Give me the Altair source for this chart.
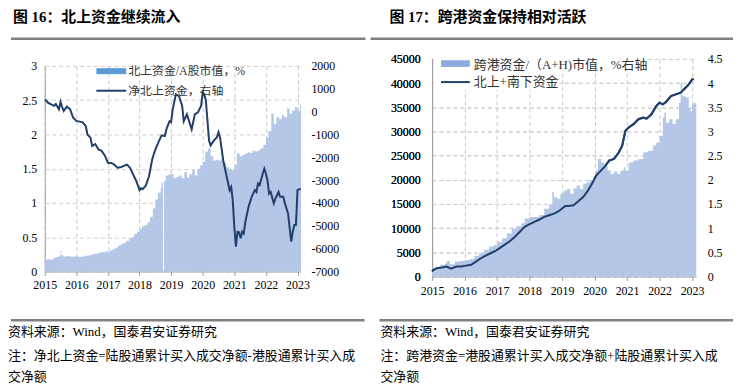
import altair as alt
import pandas as pd

# ---------------- data ----------------
YEARS = [2015, 2016, 2017, 2018, 2019, 2020, 2021, 2022, 2023]

# Figure 16: northbound holdings / A-share market cap (%) (left axis)
L_AREA_T = [2015.00, 2015.08, 2015.17, 2015.25, 2015.33, 2015.42, 2015.50, 2015.52, 2015.58, 2015.67,
            2015.75, 2015.83, 2015.92, 2016.00, 2016.08, 2016.17, 2016.25, 2016.33, 2016.42, 2016.50,
            2016.58, 2016.67, 2016.75, 2016.83, 2016.92, 2017.00, 2017.08, 2017.17, 2017.25, 2017.33,
            2017.42, 2017.50, 2017.58, 2017.67, 2017.75, 2017.83, 2017.92, 2018.00, 2018.08, 2018.17,
            2018.25, 2018.33, 2018.42, 2018.50, 2018.58, 2018.67, 2018.70, 2018.745, 2018.775, 2018.83,
            2018.92, 2019.00, 2019.08, 2019.17, 2019.25, 2019.33, 2019.42, 2019.50, 2019.58, 2019.67,
            2019.75, 2019.83, 2019.92, 2020.00, 2020.08, 2020.17, 2020.25, 2020.33, 2020.42, 2020.50,
            2020.58, 2020.67, 2020.75, 2020.83, 2020.92, 2021.00, 2021.08, 2021.17, 2021.25, 2021.33,
            2021.42, 2021.50, 2021.58, 2021.67, 2021.75, 2021.83, 2021.92, 2022.00, 2022.08, 2022.17,
            2022.25, 2022.33, 2022.42, 2022.50, 2022.58, 2022.67, 2022.75, 2022.83, 2022.92, 2023.00,
            2023.08, 2023.11]
L_AREA_V = [0.17, 0.18, 0.17, 0.19, 0.21, 0.22, 0.32, 0.24, 0.22, 0.23,
            0.22, 0.22, 0.22, 0.22, 0.21, 0.22, 0.23, 0.23, 0.24, 0.25,
            0.26, 0.27, 0.28, 0.28, 0.29, 0.29, 0.31, 0.33, 0.35, 0.38,
            0.40, 0.42, 0.45, 0.48, 0.50, 0.55, 0.58, 0.62, 0.66, 0.68,
            0.72, 0.80, 0.92, 1.05, 1.15, 1.22, 1.30, 0.00, 1.32, 1.40,
            1.42, 1.42, 1.36, 1.38, 1.40, 1.36, 1.45, 1.37, 1.42, 1.48,
            1.40, 1.50, 1.55, 1.60, 1.75, 1.80, 1.68, 1.62, 1.63, 1.62,
            1.64, 1.58, 1.52, 1.50, 1.48, 1.55, 1.72, 1.68, 1.70, 1.72,
            1.74, 1.73, 1.76, 1.75, 1.77, 1.80, 1.85, 1.95, 2.05, 2.30,
            2.15, 2.25, 2.22, 2.28, 2.25, 2.38, 2.30, 2.35, 2.40, 2.34,
            2.43, 2.43]

# Figure 16: net northbound flow (right axis)
L_LINE_T = [2015.00, 2015.05, 2015.10, 2015.20, 2015.30, 2015.35, 2015.45, 2015.50, 2015.55, 2015.60,
            2015.70, 2015.80, 2015.90, 2016.00, 2016.10, 2016.20, 2016.30, 2016.35, 2016.45, 2016.50,
            2016.60, 2016.70, 2016.80, 2016.90, 2017.00, 2017.10, 2017.20, 2017.30, 2017.40, 2017.50,
            2017.60, 2017.70, 2017.80, 2017.90, 2018.00, 2018.05, 2018.10, 2018.20, 2018.30, 2018.40,
            2018.50, 2018.60, 2018.70, 2018.80, 2018.85, 2018.95, 2019.00, 2019.05, 2019.15, 2019.25,
            2019.35, 2019.40, 2019.50, 2019.60, 2019.65, 2019.75, 2019.85, 2019.95, 2020.00, 2020.05,
            2020.10, 2020.15, 2020.20, 2020.25, 2020.35, 2020.45, 2020.50, 2020.55, 2020.65, 2020.75,
            2020.85, 2020.90, 2020.95, 2021.00, 2021.05, 2021.10, 2021.15, 2021.20, 2021.25, 2021.30,
            2021.35, 2021.45, 2021.55, 2021.65, 2021.70, 2021.75, 2021.80, 2021.90, 2021.95, 2022.00,
            2022.05, 2022.10, 2022.15, 2022.25, 2022.30, 2022.40, 2022.45, 2022.55, 2022.60, 2022.70,
            2022.80, 2022.85, 2022.90, 2022.95, 2023.00, 2023.10]
L_LINE_V = [530, 480, 390, 320, 250, 330, 100, 420, 200, 30,
            215, 110, -270, -410, -440, -470, -640, -1000, -1150, -1500,
            -1420, -1660, -1720, -1920, -2240, -2250, -2320, -2460, -2440, -2380,
            -2320, -2460, -2760, -3050, -3440, -3350, -3400, -3240, -2830, -2100,
            -1660, -1340, -1040, -1070, -780, -420, -460, 100, 760, 680,
            240, -420, -120, -560, -780, -120, -30, 260, 840, 760,
            480, -400, -1270, -1480, -1270, -1120, -900, -1150, -2140, -2790,
            -3440, -3300, -3880, -5040, -5910, -5260, -5280, -5550, -5250, -5330,
            -4820, -4170, -3730, -3440, -3520, -3150, -3220, -2720, -2500, -2720,
            -3010, -3590, -3520, -4020, -3810, -3520, -3730, -3730, -4020, -4460,
            -5690, -5260, -4970, -4970, -3440, -3370]

# Figure 17: cross-border holdings / (A+H) market cap (%) (right axis)
R_AREA_T = [2015.00, 2015.10, 2015.25, 2015.40, 2015.45, 2015.55, 2015.70, 2015.85, 2016.00, 2016.15,
            2016.30, 2016.45, 2016.60, 2016.75, 2016.90, 2017.00, 2017.15, 2017.30, 2017.45, 2017.60,
            2017.75, 2017.85, 2018.00, 2018.15, 2018.30, 2018.45, 2018.60, 2018.70, 2018.75, 2018.85,
            2018.95, 2019.05, 2019.15, 2019.25, 2019.35, 2019.45, 2019.55, 2019.65, 2019.75, 2019.85,
            2019.95, 2020.05, 2020.10, 2020.20, 2020.30, 2020.40, 2020.50, 2020.60, 2020.70, 2020.80,
            2020.90, 2020.95, 2021.05, 2021.20, 2021.35, 2021.50, 2021.65, 2021.80, 2021.90, 2022.00,
            2022.10, 2022.15, 2022.20, 2022.30, 2022.40, 2022.50, 2022.60, 2022.65, 2022.70, 2022.80,
            2022.90, 2022.95, 2023.00, 2023.05, 2023.13]
R_AREA_V = [0.10, 0.18, 0.24, 0.27, 0.32, 0.25, 0.31, 0.32, 0.34, 0.36,
            0.43, 0.48, 0.55, 0.62, 0.65, 0.72, 0.79, 0.89, 0.99, 1.04,
            1.10, 1.20, 1.23, 1.23, 1.27, 1.40, 1.49, 1.75, 1.64, 1.61,
            1.71, 1.78, 1.81, 1.71, 1.82, 1.88, 1.81, 1.92, 1.95, 1.99,
            2.05, 2.19, 2.43, 2.36, 2.29, 2.19, 2.12, 2.17, 2.12, 2.19,
            2.26, 2.19, 2.36, 2.40, 2.43, 2.57, 2.60, 2.71, 2.77, 2.91,
            3.29, 3.39, 3.18, 3.25, 3.15, 3.25, 3.60, 4.00, 3.73, 3.70,
            3.49, 3.42, 3.56, 3.59, 3.59]

# Figure 17: northbound + southbound cumulative flow (left axis)
R_LINE_T = [2015.00, 2015.05, 2015.15, 2015.30, 2015.45, 2015.55, 2015.60, 2015.75, 2015.90, 2016.00,
            2016.20, 2016.35, 2016.50, 2016.65, 2016.80, 2016.95, 2017.10, 2017.25, 2017.40, 2017.55,
            2017.70, 2017.85, 2018.00, 2018.15, 2018.30, 2018.45, 2018.60, 2018.75, 2018.90, 2019.00,
            2019.10, 2019.20, 2019.35, 2019.50, 2019.65, 2019.80, 2019.95, 2020.05, 2020.15, 2020.30,
            2020.45, 2020.60, 2020.75, 2020.85, 2020.95, 2021.05, 2021.20, 2021.35, 2021.50, 2021.60,
            2021.75, 2021.90, 2022.00, 2022.10, 2022.20, 2022.35, 2022.50, 2022.65, 2022.80, 2022.90,
            2023.00, 2023.05]
R_LINE_V = [1030, 1370, 1710, 1850, 2050, 1710, 1650, 2050, 2050, 2190,
            2400, 3080, 3770, 4320, 4800, 5270, 5960, 6640, 7330, 8220,
            9250, 10270, 10820, 11300, 11780, 12330, 12670, 13010, 13490, 14040,
            14590, 14590, 14730, 15550, 16440, 17810, 19520, 20890, 21580, 22600,
            23970, 24320, 25690, 27060, 30140, 30820, 31510, 32530, 32880, 32650,
            33560, 35270, 35960, 35620, 36100, 37330, 37670, 38010, 39040, 39730,
            40750, 40890]

# ---------------- styling ----------------
AREA_C = "#B4C7E7"
LINE_C = "#203F6B"
GRID_C = "#CFCFCF"
VGRID_C = "#C8C8C8"
DOM_C = "#A0A0A0"
RULE_C = "#808080"
SERIF = "Liberation Serif"
MIX = "'Liberation Serif', 'Noto Sans CJK SC'"

one = pd.DataFrame({"k": [0]})


def txt(s, x, y, size, weight="normal", color="black", font=MIX):
    return alt.Chart(one).mark_text(text=s, align="left", baseline="middle", fontSize=size,
                                    fontWeight=weight, color=color, font=font).encode(
        x=alt.value(x), y=alt.value(y))


def hrule(x1, x2, y, color, width):
    return alt.Chart(one).mark_rule(color=color, strokeWidth=width).encode(
        x=alt.value(x1), x2=alt.value(x2), y=alt.value(y))


def box(x1, x2, y1, y2, color):
    return alt.Chart(one).mark_rect(color=color, opacity=1).encode(
        x=alt.value(x1), x2=alt.value(x2), y=alt.value(y1), y2=alt.value(y2))


def x_axis(pad):
    return alt.Axis(values=YEARS, labelExpr="datum.value + ''", grid=True, gridColor=VGRID_C,
                    gridDash=[4, 3], gridWidth=1, domainColor=DOM_C, tickColor=DOM_C, tickSize=4,
                    labelPadding=pad, labelFont=SERIF, labelFontSize=12, labelColor="black",
                    labelFlush=False, labelOverlap=False, title=None)


def y_axis(vals, orient, pad, grid):
    kw = dict(values=vals, orient=orient, labelExpr="datum.value + ''", ticks=False,
              labelPadding=pad, labelFont=SERIF, labelFontSize=12, labelColor="black",
              labelFlush=False, labelOverlap=False, grid=grid, title=None)
    if grid:
        kw.update(gridColor=GRID_C, gridDash=[4, 3], domainColor=DOM_C)
    else:
        kw.update(domain=False)
    return alt.Axis(**kw)


# ---------------- left panel (Fig. 16) ----------------
WL, HL = 258, 214
xl = alt.Scale(domain=[2015, 2023.11], nice=False, zero=False)
yl = alt.Scale(domain=[0, 3], range=[214, 7], nice=False)
yl2 = alt.Scale(domain=[-7000, 2000], range=[214, 7], nice=False)
XL_AX = x_axis(4)

df_la = pd.DataFrame({"t": L_AREA_T, "v": L_AREA_V})
df_ll = pd.DataFrame({"t": L_LINE_T, "v": L_LINE_V})

area_l = alt.Chart(df_la).mark_area(color=AREA_C, opacity=1, interpolate="step-after").encode(
    x=alt.X("t:Q", scale=xl, axis=XL_AX),
    y=alt.Y("v:Q", scale=yl, axis=y_axis([0, 0.5, 1, 1.5, 2, 2.5, 3], "left", 8, True)))
line_l = alt.Chart(df_ll).mark_line(color=LINE_C, strokeWidth=2).encode(
    x=alt.X("t:Q", scale=xl, axis=XL_AX),
    y=alt.Y("v:Q", scale=yl2, axis=y_axis(list(range(-7000, 2001, 1000)), "right", 10, False)))

left = alt.layer(
    area_l, line_l,
    box(-1.5, 260, -1, 6.4, "white"),
    box(-37, -36, -50, -49, "white"),
    txt("图 16：北上资金继续流入", -32, -42, 15, "bold"),
    hrule(-34, 323, -20.3, RULE_C, 2.5),
    box(52, 82, 9.3, 15.3, "#5B9BD5"),
    txt("北上资金/A股市值，%", 84, 12.3, 12, color="#333333"),
    hrule(52, 82, 32, LINE_C, 2),
    txt("净北上资金，右轴", 84, 32, 12, color="#333333"),
    hrule(-34, 322, 263, RULE_C, 2.5),
    txt("资料来源：Wind，国泰君安证券研究", -37, 275, 13),
    txt("注：净北上资金=陆股通累计买入成交净额-港股通累计买入成", -37, 299, 13),
    txt("交净额", -37, 320, 13),
).resolve_scale(y="independent").properties(width=WL, height=HL)

# ---------------- right panel (Fig. 17) ----------------
WR, HR = 266, 219
xr = alt.Scale(domain=[2015, 2023.13], nice=False, zero=False)
yr = alt.Scale(domain=[0, 45000], nice=False)
yr2 = alt.Scale(domain=[0, 4.5], nice=False)
XR_AX = x_axis(5)

df_ra = pd.DataFrame({"t": R_AREA_T, "v": R_AREA_V})
df_rl = pd.DataFrame({"t": R_LINE_T, "v": R_LINE_V})

line_r = alt.Chart(df_rl).mark_line(color=LINE_C, strokeWidth=2).encode(
    x=alt.X("t:Q", scale=xr, axis=XR_AX),
    y=alt.Y("v:Q", scale=yr, axis=y_axis(list(range(0, 45001, 5000)), "left", 12, True)))
area_r = alt.Chart(df_ra).mark_area(color=AREA_C, opacity=1, interpolate="step-after").encode(
    x=alt.X("t:Q", scale=xr, axis=XR_AX),
    y=alt.Y("v:Q", scale=yr2, axis=y_axis([0, 0.5, 1, 1.5, 2, 2.5, 3, 3.5, 4, 4.5], "right", 11, False)))

right = alt.layer(
    line_r, area_r, line_r,
    txt("图 17：跨港资金保持相对活跃", -43, -42, 15, "bold"),
    hrule(-62, 303, -20.3, RULE_C, 2.5),
    box(2, 217, -1, 14.5, "white"),
    box(2, 128, 14.5, 31, "white"),
    box(9, 38, 1.3, 8, "#8FAADC"),
    txt("跨港资金/（A+H)市值，%右轴", 42, 5.7, 13, color="#333333"),
    hrule(9, 38, 23.3, LINE_C, 2),
    txt("北上+南下资金", 42, 23.3, 13, color="#333333"),
    hrule(-53, 303, 263, RULE_C, 2.5),
    txt("资料来源：Wind，国泰君安证券研究", -52, 275, 13),
    txt("注：跨港资金=港股通累计买入成交净额+陆股通累计买入成", -52, 299, 13),
    txt("交净额", -52, 320, 13),
).resolve_scale(y="independent").properties(width=WR, height=HR)

chart = alt.hconcat(left, right, spacing=132, bounds="flush").properties(
    padding=0, background="white"
).configure_view(stroke=None)

chart.save("out.html", embed_options={"renderer": "svg", "actions": False})
